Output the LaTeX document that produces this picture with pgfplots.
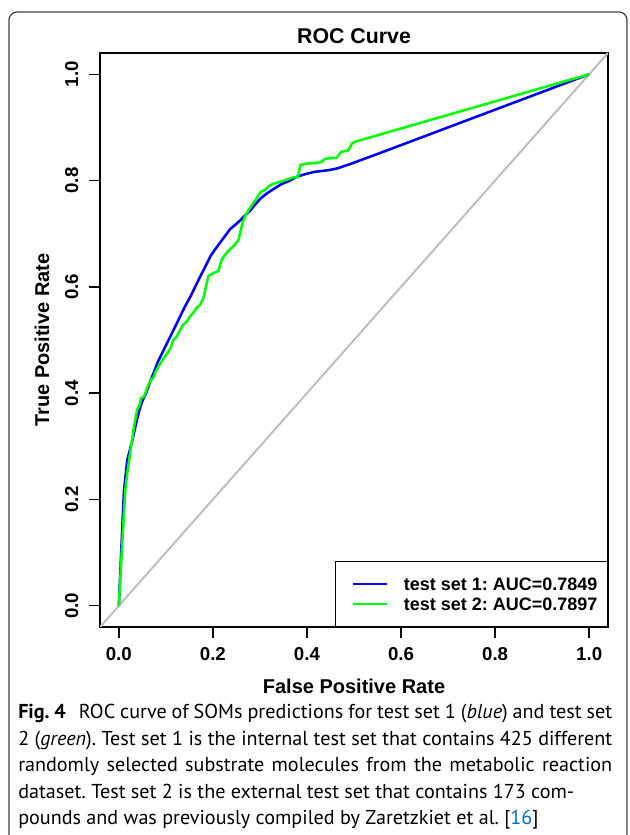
\documentclass[border=0pt]{standalone}
\usepackage{fontspec}
\setmainfont{Liberation Sans}
\newfontfamily\capfont{PT Sans}
\usepackage{pgfplots}
\pgfplotsset{compat=1.18}
\definecolor{rblue}{RGB}{0,0,255}
\definecolor{rgreen}{RGB}{0,255,0}
\definecolor{rgray}{RGB}{190,190,190}
\definecolor{linkblue}{RGB}{0,114,198}
\frenchspacing

\begin{document}
\begin{tikzpicture}[x=0.75pt,y=0.75pt]
\useasboundingbox (0,0) rectangle (629,835);
% frame round the figure
\draw[line width=0.9pt, black!75] (9,0) -- (9,815) arc[start angle=180,end angle=90,radius=8]
  -- (619,823) arc[start angle=90,end angle=0,radius=8] -- (627,0);

\begin{axis}[
  at={(75pt,156pt)}, anchor=south west,
  scale only axis, width=381pt, height=430.5pt,
  xmin=-0.04, xmax=1.04, ymin=-0.04, ymax=1.04,
  axis line style={line width=1.1pt},
  xtick={0,0.2,0.4,0.6,0.8,1}, xticklabels={0.0,0.2,0.4,0.6,0.8,1.0},
  ytick={0,0.2,0.4,0.6,0.8,1}, yticklabels={0.0,0.2,0.4,0.6,0.8,1.0},
  xtick pos=bottom, ytick pos=left,
  tick align=outside, major tick length=8.5pt,
  major tick style={line width=1.1pt, black},
  ticklabel style={font=\fontsize{14}{14}\selectfont\bfseries, inner sep=0pt},
  xticklabel style={anchor=north},
  yticklabel style={rotate=90, anchor=south},
  xticklabel shift=7pt, yticklabel shift=7.6pt,
  title={ROC Curve},
  title style={at={(axis description cs:0.5,1.0155)}, anchor=center,
    font=\fontsize{16}{16}\selectfont\bfseries},
  xlabel={False Positive Rate},
  xlabel style={at={(axis description cs:0.5,-0.1028)}, anchor=center,
    font=\fontsize{15}{15}\selectfont\bfseries},
  ylabel={True Positive Rate},
  ylabel style={at={(axis description cs:-0.1142,0.5)}, anchor=center,
    font=\fontsize{15}{15}\selectfont\bfseries},
  legend cell align=left,
  legend image code/.code={\path (0pt,0pt); \draw[#1] (4.5pt,0pt) -- (30pt,0pt);},
  legend style={at={(1,0)}, anchor=south east, draw=black, line width=0.8pt,
    font=\fontsize{13.5}{13.5}\selectfont\bfseries,
    inner xsep=7.5pt, inner ysep=11.9pt, column sep=12pt, row sep=5pt,
    nodes={inner sep=0pt, text height=10pt, text depth=0pt}},
]
\addplot[rgray, line width=1.5pt, forget plot] coordinates {(-0.04,-0.04) (1.04,1.04)};

\addplot[rblue, line width=1.9pt] coordinates {
(0,0) (0.004,0.08) (0.008,0.16) (0.011,0.217) (0.015,0.25) (0.018,0.274)
(0.024,0.295) (0.029,0.312) (0.036,0.34) (0.044,0.369) (0.05,0.385)
(0.058,0.40) (0.068,0.425) (0.075,0.44) (0.082,0.457) (0.092,0.475)
(0.103,0.495) (0.117,0.52) (0.128,0.54) (0.14,0.562) (0.153,0.583)
(0.164,0.603) (0.174,0.621) (0.185,0.64) (0.195,0.658) (0.206,0.672)
(0.216,0.684) (0.227,0.697) (0.237,0.709) (0.248,0.717) (0.258,0.725)
(0.269,0.735) (0.28,0.744) (0.29,0.755) (0.301,0.766) (0.315,0.776)
(0.329,0.784) (0.345,0.793) (0.364,0.800) (0.378,0.807) (0.396,0.812)
(0.414,0.816) (0.432,0.818) (0.449,0.820) (0.465,0.823) (0.478,0.827)
(0.495,0.832) (0.513,0.838) (0.55,0.85) (1,1)};
\addlegendentry{test set 1: AUC=0.7849}

\addplot[rgreen, line width=1.9pt] coordinates {
(0,0) (0.005,0.08) (0.01,0.16) (0.014,0.22) (0.018,0.25) (0.022,0.274)
(0.026,0.30) (0.029,0.315) (0.031,0.33) (0.035,0.35) (0.039,0.369)
(0.045,0.38) (0.047,0.39) (0.054,0.394) (0.06,0.41) (0.068,0.425)
(0.074,0.43) (0.078,0.44) (0.089,0.457) (0.095,0.465) (0.103,0.475)
(0.110,0.485) (0.116,0.50) (0.122,0.505) (0.131,0.52) (0.138,0.53)
(0.145,0.535) (0.152,0.545) (0.159,0.552) (0.165,0.56) (0.172,0.565)
(0.178,0.575) (0.181,0.583) (0.185,0.60) (0.191,0.621) (0.2,0.625)
(0.212,0.630) (0.215,0.640) (0.219,0.652) (0.226,0.66) (0.233,0.668)
(0.242,0.675) (0.251,0.684) (0.255,0.69) (0.258,0.702) (0.263,0.72)
(0.269,0.734) (0.278,0.747) (0.287,0.759) (0.292,0.765) (0.301,0.778)
(0.312,0.783) (0.320,0.790) (0.329,0.794) (0.345,0.798) (0.358,0.802)
(0.371,0.806) (0.380,0.806) (0.384,0.82) (0.386,0.829) (0.400,0.832)
(0.420,0.833) (0.431,0.835) (0.439,0.841) (0.463,0.843) (0.473,0.854)
(0.488,0.857) (0.495,0.869) (0.502,0.873) (1,1)};
\addlegendentry{test set 2: AUC=0.7897}
\end{axis}

% caption
\begin{scope}[every node/.style={anchor=base west, inner sep=0pt,
    font=\capfont\fontsize{15.1}{17}\selectfont}]
\node at (18,116) {\makebox[445.5pt][s]{\textbf{Fig. 4}\hspace{0.4em} ROC curve of SOMs predictions for test set 1 (\textit{blue}) and test set}};
\node at (18,89.5) {\makebox[445.5pt][s]{2 (\textit{green}). Test set 1 is the internal test set that contains 425 different}};
\node at (18,63) {\makebox[445.5pt][s]{randomly selected substrate molecules from the metabolic reaction}};
\node at (18,36.5) {dataset. Test set 2 is the external test set that contains 173 com-};
\node at (18,10) {pounds and was previously compiled by Zaretzkiet et al. [\textcolor{linkblue}{16}]};
\end{scope}
\end{tikzpicture}
\end{document}
